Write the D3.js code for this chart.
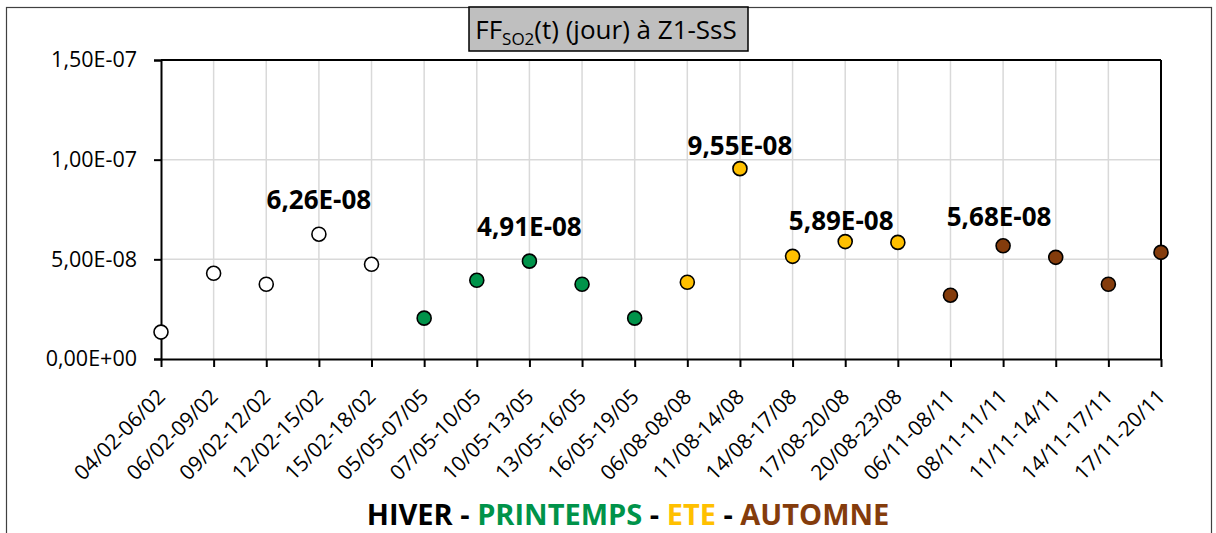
<!DOCTYPE html>
<html>
<head>
<meta charset="utf-8">
<script src="https://cdn.jsdelivr.net/npm/d3@7"></script>
<style>
  html, body { margin: 0; padding: 0; background: #fff; }
  svg { display: block; }
  text { font-family: "Open Sans", "Noto Sans", sans-serif; }
</style>
</head>
<body>
<svg id="chart" width="1216" height="533"></svg>
<script>
// ---------- data ----------
const categories = [
  "04/02-06/02", "06/02-09/02", "09/02-12/02", "12/02-15/02", "15/02-18/02",
  "05/05-07/05", "07/05-10/05", "10/05-13/05", "13/05-16/05", "16/05-19/05",
  "06/08-08/08", "11/08-14/08", "14/08-17/08", "17/08-20/08", "20/08-23/08",
  "06/11-08/11", "08/11-11/11", "11/11-14/11", "14/11-17/11", "17/11-20/11"
];
const values = [
  1.35e-8, 4.30e-8, 3.75e-8, 6.26e-8, 4.75e-8,
  2.05e-8, 3.95e-8, 4.91e-8, 3.75e-8, 2.05e-8,
  3.85e-8, 9.55e-8, 5.15e-8, 5.89e-8, 5.85e-8,
  3.20e-8, 5.68e-8, 5.10e-8, 3.75e-8, 5.35e-8
];
const seasons = [
  "HIVER", "HIVER", "HIVER", "HIVER", "HIVER",
  "PRINTEMPS", "PRINTEMPS", "PRINTEMPS", "PRINTEMPS", "PRINTEMPS",
  "ETE", "ETE", "ETE", "ETE", "ETE",
  "AUTOMNE", "AUTOMNE", "AUTOMNE", "AUTOMNE", "AUTOMNE"
];
const seasonNames = ["HIVER", "PRINTEMPS", "ETE", "AUTOMNE"];
const seasonColors = ["#FFFFFF", "#00934A", "#FFC000", "#843C0C"];
const seasonTextColors = ["#000000", "#00934A", "#FFC000", "#843C0C"];
const yTicks = [0, 5e-8, 1e-7, 1.5e-7];
const yTickLabels = ["0,00E+00", "5,00E-08", "1,00E-07", "1,50E-07"];
const labelledIdx = [3, 7, 11, 13, 16];
const labelTexts = ["6,26E-08", "4,91E-08", "9,55E-08", "5,89E-08", "5,68E-08"];
const labelLift = [34, 34, 23, 21, 29];
const labelShift = [0, 0, 0, -4, -4];

// ---------- layout ----------
const svg = d3.select("#chart");
const plot = { left: 161, right: 1161, top: 60, bottom: 359 };

const x = d3.scalePoint().domain(categories).range([plot.left, plot.right]);
const y = d3.scaleLinear().domain([0, 1.5e-7]).range([plot.bottom, plot.top]);
const color = d3.scaleOrdinal().domain(seasonNames).range(seasonColors);
const textColor = d3.scaleOrdinal().domain(seasonNames).range(seasonTextColors);

// outer frame
svg.append("rect")
  .attr("x", 6.5).attr("y", 7.5).attr("width", 1205).attr("height", 540)
  .attr("fill", "none").attr("stroke", "#404040").attr("stroke-width", 1.2);

// gridlines
const grid = svg.append("g");
grid.selectAll("line.h").data(yTicks.slice(1, -1)).join("line")
  .attr("x1", plot.left).attr("x2", plot.right)
  .attr("y1", d => y(d)).attr("y2", d => y(d))
  .attr("stroke", "#D9D9D9").attr("stroke-width", 1.5);
grid.selectAll("line.v").data(categories.slice(1, -1)).join("line")
  .attr("x1", d => x(d)).attr("x2", d => x(d))
  .attr("y1", plot.top).attr("y2", plot.bottom)
  .attr("stroke", "#D9D9D9").attr("stroke-width", 1.5);

// plot frame top/right
svg.append("line").attr("x1", plot.left).attr("x2", plot.right)
  .attr("y1", plot.top).attr("y2", plot.top)
  .attr("stroke", "#000").attr("stroke-width", 2);
svg.append("line").attr("x1", plot.right).attr("x2", plot.right)
  .attr("y1", plot.top).attr("y2", plot.bottom)
  .attr("stroke", "#000").attr("stroke-width", 2);

// y axis
const yAxis = svg.append("g")
  .attr("transform", `translate(${plot.left},0)`)
  .call(d3.axisLeft(y).tickValues(yTicks)
    .tickFormat((d, i) => yTickLabels[i]).tickSize(7).tickPadding(17));
yAxis.select(".domain").attr("stroke", "#000").attr("stroke-width", 2);
yAxis.selectAll(".tick line").attr("stroke", "#000").attr("stroke-width", 2);
yAxis.selectAll(".tick text")
  .attr("font-family", "Open Sans").attr("font-size", 21.5).attr("fill", "#000");

// x axis
const xAxis = svg.append("g")
  .attr("transform", `translate(0,${plot.bottom})`)
  .call(d3.axisBottom(x).tickSize(8).tickSizeOuter(0));
xAxis.select(".domain").attr("stroke", "#000").attr("stroke-width", 2);
xAxis.selectAll(".tick line").attr("stroke", "#000").attr("stroke-width", 2);
xAxis.selectAll(".tick text")
  .attr("font-family", "Open Sans").attr("font-size", 21).attr("fill", "#000")
  .attr("text-anchor", "end")
  .attr("x", 0).attr("y", 0).attr("dy", 0)
  .attr("transform", "translate(5,39) rotate(-45)");

// points
svg.append("g").selectAll("circle").data(values).join("circle")
  .attr("cx", (d, i) => x(categories[i]))
  .attr("cy", d => y(d))
  .attr("r", 7)
  .attr("fill", (d, i) => color(seasons[i]))
  .attr("stroke", "#000").attr("stroke-width", 1.6);

// data labels
svg.append("g").selectAll("text").data(labelledIdx).join("text")
  .attr("x", (d, k) => x(categories[d]) + labelShift[k])
  .attr("y", (d, k) => y(values[d]) - labelLift[k])
  .attr("dy", "0.35em")
  .attr("text-anchor", "middle")
  .attr("font-family", "Open Sans").attr("font-weight", "bold")
  .attr("font-size", 26).attr("fill", "#000")
  .text((d, k) => labelTexts[k]);

// title
svg.append("rect")
  .attr("x", 469).attr("y", 7).attr("width", 279).attr("height", 44)
  .attr("fill", "#BFBFBF").attr("stroke", "#000").attr("stroke-width", 1.5);
const title = svg.append("text")
  .attr("x", 606).attr("y", 39)
  .attr("text-anchor", "middle")
  .attr("font-family", "Open Sans").attr("font-size", 26).attr("fill", "#000");
title.append("tspan").text("FF");
title.append("tspan").attr("font-size", 17).attr("dy", 6).text("SO2");
title.append("tspan").attr("dy", -6).text("(t) (jour) à Z1-SsS");

// legend
const legend = svg.append("text")
  .attr("x", 628).attr("y", 525)
  .attr("text-anchor", "middle")
  .attr("font-family", "Open Sans").attr("font-weight", "bold")
  .attr("font-size", 29);
seasonNames.forEach((s, i) => {
  if (i > 0) legend.append("tspan").attr("fill", "#000").text(" - ");
  legend.append("tspan").attr("fill", textColor(s)).text(s);
});
</script>
</body>
</html>
